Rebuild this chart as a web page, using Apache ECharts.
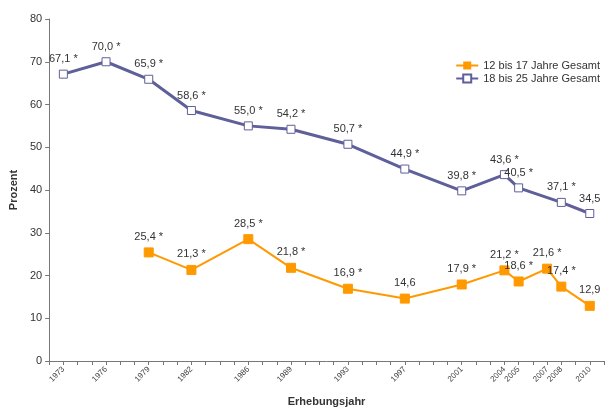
<!DOCTYPE html>
<html><head><meta charset="utf-8">
<script src="https://cdn.jsdelivr.net/npm/echarts@6/dist/echarts.min.js"></script>
<style>html,body{margin:0;padding:0;background:#fff}#c{width:607px;height:412px}</style>
</head><body><div id="c"></div>
<script>
const tickYears = [1973,1976,1979,1982,1986,1989,1993,1997,2001,2004,2005,2007,2008,2010];
const yearsA = [1979,1982,1986,1989,1993,1997,2001,2004,2005,2007,2008,2010];
const valuesA = [25.4,21.3,28.5,21.8,16.9,14.6,17.9,21.2,18.6,21.6,17.4,12.9];
const starsA = [1,1,1,1,1,0,1,1,1,1,1,0];
const yearsB = [1973,1976,1979,1982,1986,1989,1993,1997,2001,2004,2005,2008,2010];
const valuesB = [67.1,70.0,65.9,58.6,55.0,54.2,50.7,44.9,39.8,43.6,40.5,37.1,34.5];
const starsB = [1,1,1,1,1,1,1,1,1,1,1,1,0];
const nameA = '12 bis 17 Jahre Gesamt';
const nameB = '18 bis 25 Jahre Gesamt';

function mk(years, vals, stars){ return years.map((y,i)=>({value:[y,vals[i]], star:stars[i]})); }
function fmt(p){ return p.value[1].toFixed(1).replace('.',',') + (p.data.star ? ' *' : ''); }

const chart = echarts.init(document.getElementById('c'));
const txt = '#333';
chart.setOption({
  animation:false,
  textStyle:{fontFamily:'Liberation Sans, Arial, sans-serif'},
  grid:{left:48, right:3, top:19, bottom:48},
  legend:{
    right:2, top:55, orient:'vertical', itemGap:2, itemWidth:22, itemHeight:10,
    textStyle:{fontSize:11, color:txt, fontFamily:'Liberation Sans, Arial, sans-serif'},
    data:[nameA, nameB]
  },
  xAxis:{
    type:'value', min:1972, max:2011, interval:1,
    name:'Erhebungsjahr', nameLocation:'middle', nameGap:35,
    nameTextStyle:{fontWeight:'bold', fontSize:11, color:txt},
    axisLine:{lineStyle:{color:'#777'}},
    axisTick:{show:true, length:4, lineStyle:{color:'#777'}},
    splitLine:{show:false},
    axisLabel:{rotate:45, fontSize:8, color:'#444', margin:7,
      formatter:v=> tickYears.indexOf(v)>=0 ? String(v) : ''}
  },
  yAxis:{
    type:'value', min:0, max:80, interval:10,
    name:'Prozent', nameLocation:'middle', nameGap:23, nameRotate:90,
    nameTextStyle:{fontWeight:'bold', fontSize:11, color:txt},
    axisLine:{show:true, lineStyle:{color:'#777'}},
    axisTick:{show:true, length:4, lineStyle:{color:'#777'}},
    splitLine:{show:false},
    axisLabel:{fontSize:11, color:'#333', margin:7}
  },
  series:[
    {name:nameA, type:'line', data:mk(yearsA,valuesA,starsA),
     symbol:'rect', symbolSize:9, showAllSymbol:true,
     lineStyle:{color:'#FF9900', width:2},
     itemStyle:{color:'#FF9900', borderColor:'#FF9900'},
     label:{show:true, position:'top', distance:5, fontSize:11, color:txt, formatter:fmt}},
    {name:nameB, type:'line', data:mk(yearsB,valuesB,starsB),
     symbol:'rect', symbolSize:8, showAllSymbol:true,
     lineStyle:{color:'#5F5F99', width:3},
     itemStyle:{color:'#ffffff', borderColor:'#5F5F99', borderWidth:1},
     label:{show:true, position:'top', distance:5, fontSize:11, color:txt, formatter:fmt}}
  ]
});
</script></body></html>
